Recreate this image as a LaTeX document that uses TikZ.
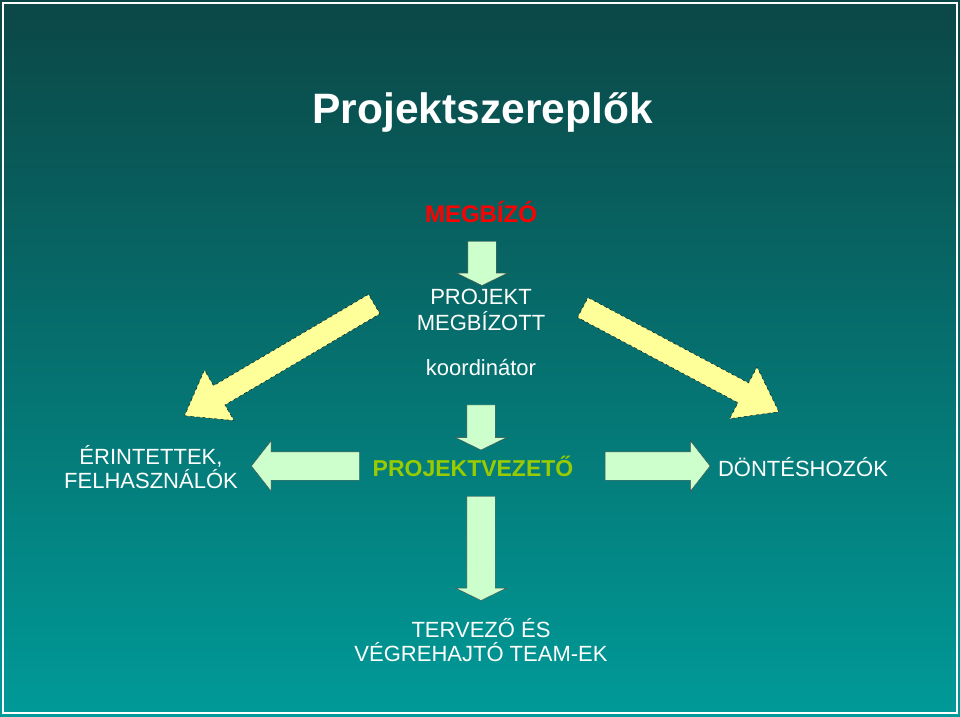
\documentclass[tikz,border=0pt]{standalone}
\usepackage{fontspec}
\setmainfont{Liberation Sans}
\usetikzlibrary{shapes.arrows,positioning}
\definecolor{bgtop}{HTML}{0B4746}
\definecolor{bgbot}{HTML}{009A98}
\definecolor{paleyellow}{HTML}{FFFF99}
\definecolor{palegreen}{HTML}{CCFFCC}
\definecolor{leadgreen}{HTML}{99CC00}
\tikzset{
  label/.style={text=white,font=\fontsize{22}{24}\selectfont,align=center,inner sep=0pt},
  greenarrow/.style={single arrow,draw=black!70,fill=palegreen,inner xsep=0pt,inner ysep=14pt,
    single arrow head extend=11pt},
  yellowarrow/.style={single arrow,draw=black,dashed,fill=paleyellow,inner xsep=0pt,inner ysep=11pt,
    single arrow head extend=18pt,single arrow tip angle=72},
}
\begin{document}
\begin{tikzpicture}[x=1pt,y=-1pt]
\useasboundingbox (0,0) rectangle (960,716);
\shade[top color=bgtop,bottom color=bgbot] (0,0) rectangle (960,716);
\draw[white,line width=1.5pt] (3,3) rectangle (957,713);
% texts
\node[text=white,font=\bfseries\fontsize{42.5}{44}\selectfont,anchor=west] (title) at (309,113) {Projektszereplők};
\node[text=red,font=\bfseries\fontsize{24}{26}\selectfont] (client) at (481,212) {MEGBÍZÓ};
\node[label] (agent) at (481,310) {PROJEKT\\[2pt]MEGBÍZOTT};
\node[label] (coord) at (481,367) {koordinátor};
\node[text=leadgreen,font=\bfseries\fontsize{23}{24}\selectfont] (lead) at (473,466) {PROJEKTVEZETŐ};
\node[label] (users) at (151,467) {ÉRINTETTEK,\\FELHASZNÁLÓK};
\node[label] (deciders) at (803,467) {DÖNTÉSHOZÓK};
\node[label] (team) at (481,640) {TERVEZŐ ÉS\\VÉGREHAJTÓ TEAM-EK};
% arrows
\node[greenarrow,minimum height=44pt,single arrow tip angle=128,rotate=-90] (a1) at (482,260) {};
\node[greenarrow,minimum height=45pt,single arrow tip angle=128,rotate=-90] (a2) at (481,424) {};
\node[greenarrow,minimum height=104pt,single arrow tip angle=128,rotate=-90] (a3) at (481,545) {};
\node[greenarrow,minimum height=108pt,single arrow tip angle=104,rotate=180] (a4) at (311,466) {};
\node[greenarrow,minimum height=105pt,single arrow tip angle=104] (a5) at (652,466) {};
\node[yellowarrow,minimum height=220pt,rotate=-149.5] (a6) at (286,356) {};
\node[yellowarrow,minimum height=222pt,rotate=-28] (a7) at (674,356) {};
\end{tikzpicture}
\end{document}
